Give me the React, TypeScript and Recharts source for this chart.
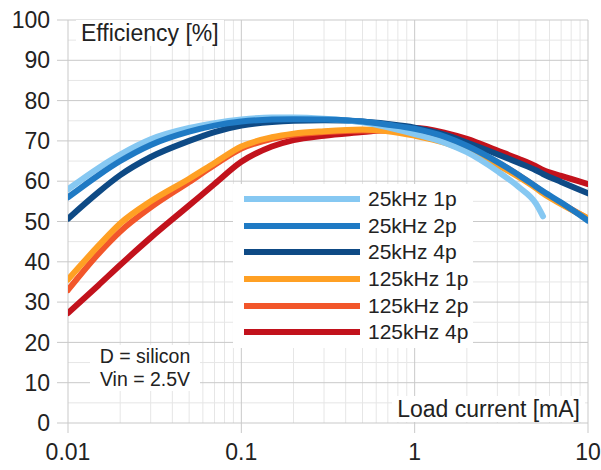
import React from "react"
import { CartesianGrid, Line, LineChart, XAxis, YAxis } from "recharts"

// load current [mA], shared by every curve
const current = [0.01, 0.015, 0.02, 0.03, 0.05, 0.07, 0.1, 0.15, 0.2, 0.3, 0.5, 0.7, 1, 1.5, 2, 3, 4, 5, 5.5, 7, 10]

// efficiency [%]
const eff25k1p = [58, 63.3, 66.6, 70.4, 73.2, 74.4, 75.3, 75.8, 75.8, 75.5, 74.6, 73.4, 71.7, 69.5, 67.2, 62.5, 58.5, 54.5, 51.3, null, null]
const eff25k2p = [56, 61.5, 65, 69, 72.3, 73.8, 74.8, 75.3, 75.4, 75.3, 74.8, 74, 73, 71, 68.8, 64.8, 61.5, 58.7, 57.5, 54.7, 50.2]
const eff25k4p = [50.7, 57.3, 61.5, 66, 70, 72.2, 73.8, 74.7, 75, 75.1, 74.8, 74.2, 73.3, 71.5, 69.6, 66.7, 64.5, 62.7, 61.8, 59.8, 57]
const eff125k1p = [35.6, 44, 49.5, 55, 60.6, 64.5, 68.6, 70.9, 71.8, 72.4, 72.8, 72.4, 71.3, 69.5, 67.5, 64, 61, 58.3, 57, 54.3, 50.8]
const eff125k2p = [33, 42, 47.5, 53.5, 59.8, 64, 68.1, 70.5, 71.5, 72.2, 72.6, 72.5, 72, 70.3, 68.5, 64.7, 61.4, 58.6, 57.3, 54.5, 50.7]
const eff125k4p = [27.3, 34.2, 39.2, 46, 54, 59.3, 64.8, 68.6, 70.2, 71.3, 72.2, 72.8, 73.2, 72, 70.5, 67.6, 65.5, 63.7, 62.8, 61.3, 59.3]

const xTicks = [0.01, 0.1, 1, 10]
const yTicks = [0, 10, 20, 30, 40, 50, 60, 70, 80, 90, 100]

const series = [
  { key: "k25p1", name: "25kHz 1p", color: "#86c8f2", values: eff25k1p },
  { key: "k25p2", name: "25kHz 2p", color: "#1f7ac4", values: eff25k2p },
  { key: "k25p4", name: "25kHz 4p", color: "#0e4a85", values: eff25k4p },
  { key: "k125p1", name: "125kHz 1p", color: "#ffa024", values: eff125k1p },
  { key: "k125p2", name: "125kHz 2p", color: "#f2562a", values: eff125k2p },
  { key: "k125p4", name: "125kHz 4p", color: "#c2121c", values: eff125k4p },
]

// drawing order: warm curves under the blue ones
const drawOrder = ["k125p4", "k125p2", "k125p1", "k25p4", "k25p1", "k25p2"]

const rows = current.map((c, i) => {
  const row: Record<string, number | null> = { current: c }
  series.forEach((s) => (row[s.key] = s.values[i]))
  return row
})

const minorX = [0.01, 0.1, 1].flatMap((d) => [2, 3, 4, 5, 6, 7, 8, 9].map((m) => +(d * m).toPrecision(3)))
const minorY = [5, 15, 25, 35, 45, 55, 65, 75, 85, 95]

const font = "'Liberation Sans', Arial, sans-serif"
const gridMajor = "#c9c9c9"
const gridMinor = "#e6e6e6"

const note: React.CSSProperties = {
  position: "absolute",
  background: "#fff",
  color: "#222",
  fontFamily: font,
  whiteSpace: "nowrap",
}

function LegendBox() {
  return (
    <div style={{ ...note, left: 233, top: 184, width: 240, height: 164, paddingTop: 2, boxSizing: "border-box" }}>
      {series.map((s) => (
        <div key={s.key} style={{ display: "flex", alignItems: "center", height: 26.6 }}>
          <div style={{ marginLeft: 11, width: 116, height: 6, background: s.color }} />
          <span style={{ marginLeft: 8, fontSize: 21 }}>{s.name}</span>
        </div>
      ))}
    </div>
  )
}

export default function App() {
  return (
    <div style={{ position: "absolute", left: 0, top: 0, width: 601, height: 470, background: "#fff", fontFamily: font }}>
      <LineChart width={601} height={470} data={rows} margin={{ top: 20, right: 13, left: 0, bottom: 0 }}>
        <CartesianGrid stroke={gridMinor} horizontalValues={minorY} verticalValues={minorX} syncWithTicks={false} />
        <CartesianGrid stroke={gridMajor} horizontalValues={yTicks} verticalValues={xTicks} syncWithTicks={false} />
        <XAxis
          dataKey="current"
          type="number"
          scale="log"
          domain={[0.01, 10]}
          ticks={xTicks}
          interval={0}
          allowDataOverflow
          height={47}
          axisLine={false}
          tickSize={10}
          tickMargin={11}
          tickLine={{ stroke: gridMajor }}
          tick={{ fill: "#222", fontSize: 23, fontFamily: font }}
          tickFormatter={(v: number) => String(v)}
        />
        <YAxis
          type="number"
          domain={[0, 100]}
          ticks={yTicks}
          interval={0}
          width={68}
          axisLine={false}
          tickSize={11}
          tickMargin={7}
          tickLine={{ stroke: gridMajor }}
          tick={{ fill: "#222", fontSize: 23, fontFamily: font }}
        />
        {drawOrder.map((k) => {
          const s = series.find((x) => x.key === k)!
          return (
            <Line
              key={s.key}
              dataKey={s.key}
              name={s.name}
              type="monotone"
              stroke={s.color}
              strokeWidth={6}
              strokeLinecap="round"
              dot={false}
              activeDot={false}
              isAnimationActive={false}
            />
          )
        })}
      </LineChart>
      <LegendBox />
      <div style={{ ...note, left: 76, top: 20, fontSize: 23, lineHeight: "26px", padding: "0 5px" }}>Efficiency [%]</div>
      <div style={{ ...note, right: 16, top: 396, fontSize: 23, lineHeight: "26px", padding: "0 5px" }}>Load current [mA]</div>
      <div style={{ ...note, left: 90, top: 345, width: 110, fontSize: 19.5, lineHeight: "23px", textAlign: "center" }}>
        D = silicon
        <br />
        Vin = 2.5V
      </div>
    </div>
  )
}
